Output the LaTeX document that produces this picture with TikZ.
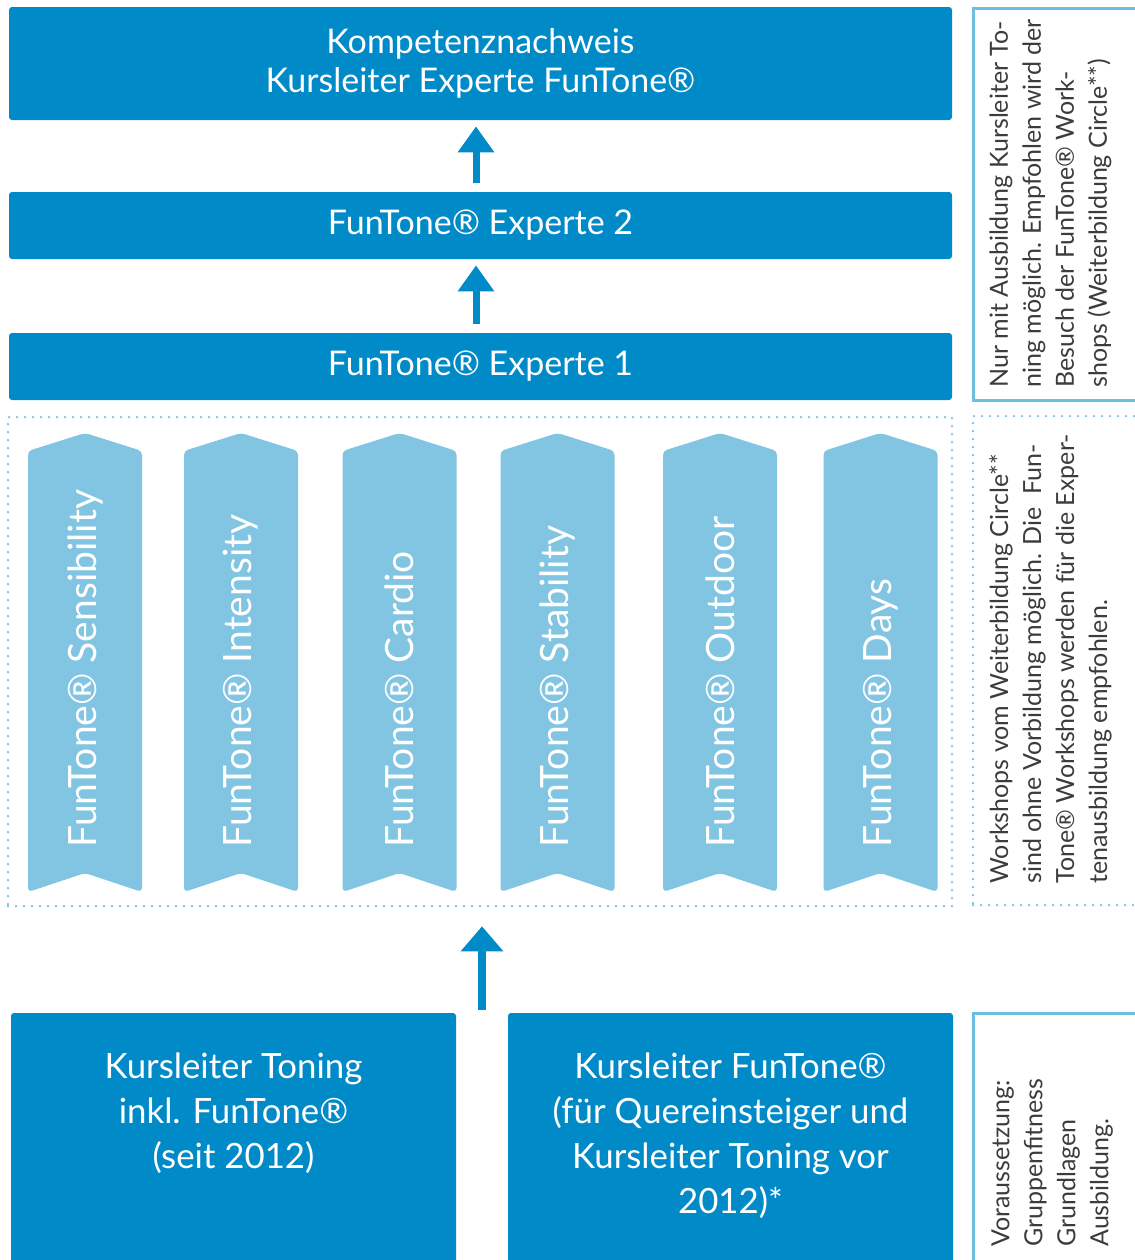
\documentclass[tikz,border=0pt]{standalone}
\usepackage{fontspec}
\setmainfont{Lato}
\usetikzlibrary{arrows.meta,positioning}
\definecolor{ftblue}{HTML}{008AC8}
\definecolor{ftlight}{HTML}{82C5E3}
\definecolor{ftline}{HTML}{6CBFE2}
\definecolor{ftgray}{HTML}{3C3C3C}

\tikzset{
	level/.style={fill=ftblue, rounded corners=1.5pt, minimum width=471.5pt, inner sep=0pt,
		text=white, align=center, font=\fontsize{17}{19.5}\selectfont},
	bottomtext/.style={text=white, align=center, inner sep=0pt, font=\fontsize{17.4}{22.5}\selectfont},
	dotframe/.style={draw=ftline, line width=1.25pt, dash pattern=on 0pt off 4pt, line cap=round, inner sep=0pt},
	panel/.style={draw=ftline, line width=1.5pt, inner sep=0pt},
	uparrow/.style={color=ftblue, line width=3.5pt, -{Triangle[width=17.5pt,length=13pt]}},
	wstext/.style={rotate=90, anchor=west, inner sep=0pt, text=white, font=\fontsize{19.5}{24}\selectfont},
	sidetext/.style={rotate=90, anchor=north west, inner sep=0pt, align=left, text=ftgray,
		font=\fontsize{12.5}{16.5}\selectfont}
}

\begin{document}
\begin{tikzpicture}[x=0.5pt,y=-0.5pt]
	\useasboundingbox (0,0) rectangle (1135,1260);
	
	% levels
	\node[level, minimum height=56.5pt] (kn) at (480.5,63.5) {Kompetenznachweis\\Kursleiter Experte FunTone\textregistered};
	\node[level, minimum height=33.5pt] (ex2) at (480.5,225.5) {FunTone\textregistered{} Experte 2};
	\node[level, minimum height=33.5pt] (ex1) at (480.5,366.5) {FunTone\textregistered{} Experte 1};
	
	% workshops
	\node[dotframe, minimum width=472pt, minimum height=244.5pt] (ws) at (480,661.5) {};
	\foreach \cx/\nm [count=\i] in {85/Sensibility,241/Intensity,399.5/Cardio,557.5/Stability,720/Outdoor,880.5/Days}
	{
		\fill[ftlight, rounded corners=2pt] (\cx-57,451) -- (\cx,433) -- (\cx+57,451)
			-- (\cx+57,892) -- (\cx,873) -- (\cx-57,892) -- cycle;
		\node[wstext] (w\i) at (\cx,848) {FunTone\textregistered{} \nm};
	}
	
	% entry
	\node[level, minimum width=222.5pt, minimum height=131pt] (kt) at (233.5,1144) {};
	\node[level, minimum width=222.5pt, minimum height=131pt] (kf) at (730.5,1144) {};
	\node[bottomtext, below=20pt of kt.north] (kt-t) {Kursleiter Toning\\inkl. FunTone\textregistered\\(seit 2012)};
	\node[bottomtext, below=20pt of kf.north] (kf-t) {Kursleiter FunTone\textregistered\\(für Quereinsteiger und\\Kursleiter Toning vor\\2012)*};
	\coordinate (base) at (482,1010);
	
	\path[uparrow, shorten <=4.5pt, shorten >=3pt]
	([xshift=-2.25pt]ex2.north) edge ([xshift=-2.25pt]kn.south)
	([xshift=-2.25pt]ex1.north) edge ([xshift=-2.25pt]ex2.south)
	;
	\draw[uparrow, line width=4pt, -{Triangle[width=20.5pt,length=12.5pt]}, shorten >=9.5pt]
	(base) -- (base |- ws.south);
	
	% notes
	\node[panel, minimum width=86pt, minimum height=196pt] (p1) at (1059,204) {};
	\node[dotframe, minimum width=86pt, minimum height=244.5pt] (p2) at (1059,660.5) {};
	\node[panel, minimum width=86pt, minimum height=131pt] (p3) at (1059,1144) {};
	\node[sidetext] (n1) at (989,388) {Nur mit Ausbildung Kursleiter To-\\ning möglich. Empfohlen wird der\\Besuch der FunTone\textregistered{} Work-\\shops (Weiterbildung Circle**)};
	\node[sidetext] (n2) at (989,884) {Workshops vom Weiterbildung Circle**\\sind ohne Vorbildung möglich. Die \ Fun-\\Tone\textregistered{} Workshops werden für die Exper-\\tenausbildung empfohlen.};
	\node[sidetext] (n3) at (991,1247) {Voraussetzung:\\Gruppenfitness\\Grundlagen\\Ausbildung.};
\end{tikzpicture}
\end{document}
